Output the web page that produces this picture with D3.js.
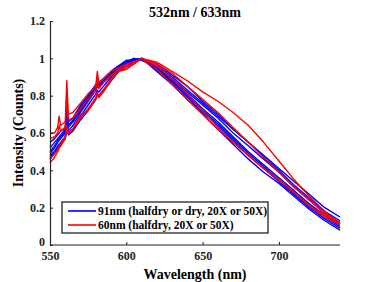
<!DOCTYPE html>
<head>
<meta charset="utf-8">
<style>
body { margin: 0; background: #fff; }
text { font-family: "Liberation Serif", "Times New Roman", serif; font-weight: bold; }
.axis path, .axis line { stroke: #222; }
.axis text { font-size: 12px; fill: #222; }
</style>
</head>
<body>
<script src="https://cdn.jsdelivr.net/npm/d3@7"></script>
<script>

var width = 376, height = 282;

// wavelength grid (nm), shared by every curve
var wavelengths = [550,553,555,556,557,560,561,562,565,570,575,580,581,582,585,590,595,600,605,610,
                   620,630,640,650,660,670,680,690,700,710,720,730,740];

// 91nm curves (blue)
var blue1 = [0.55,0.57,0.59,0.60,0.61,0.63,0.75,0.66,0.68,0.75,0.80,0.86,0.88,0.87,0.89,0.93,0.96,0.99,0.99,1.00,
             0.97,0.91,0.85,0.77,0.70,0.62,0.55,0.48,0.41,0.34,0.27,0.20,0.15];
var blue2 = [0.52,0.55,0.57,0.58,0.59,0.62,0.72,0.64,0.67,0.74,0.79,0.85,0.87,0.86,0.89,0.93,0.96,0.98,1.00,0.99,
             0.95,0.88,0.81,0.73,0.66,0.58,0.50,0.43,0.36,0.29,0.22,0.16,0.11];
var blue3 = [0.49,0.52,0.55,0.56,0.57,0.60,0.70,0.63,0.66,0.73,0.78,0.84,0.86,0.85,0.88,0.92,0.95,0.98,0.99,1.00,
             0.94,0.87,0.79,0.71,0.64,0.56,0.48,0.41,0.34,0.27,0.20,0.14,0.09];
var blue4 = [0.47,0.50,0.53,0.54,0.55,0.58,0.68,0.61,0.64,0.71,0.77,0.83,0.85,0.84,0.87,0.91,0.95,0.97,0.99,1.00,
             0.95,0.89,0.82,0.75,0.68,0.60,0.53,0.46,0.39,0.31,0.24,0.17,0.12];
var blue5 = [0.46,0.49,0.52,0.53,0.54,0.57,0.66,0.60,0.62,0.69,0.75,0.81,0.83,0.82,0.85,0.90,0.94,0.97,0.99,1.00,
             0.93,0.86,0.78,0.70,0.62,0.54,0.46,0.39,0.33,0.26,0.19,0.13,0.08];
var blue6 = [0.50,0.53,0.56,0.57,0.58,0.61,0.73,0.64,0.66,0.72,0.78,0.84,0.86,0.85,0.88,0.92,0.95,0.98,1.00,0.99,
             0.96,0.90,0.83,0.76,0.69,0.62,0.55,0.47,0.40,0.32,0.25,0.18,0.13];
var blue7 = [0.48,0.50,0.52,0.53,0.54,0.57,0.64,0.59,0.61,0.67,0.72,0.78,0.80,0.80,0.83,0.88,0.93,0.96,0.98,1.00,
             0.94,0.88,0.80,0.72,0.65,0.57,0.49,0.42,0.35,0.28,0.21,0.15,0.10];

// 60nm curves (red)
var red1 = [0.60,0.60,0.63,0.69,0.64,0.66,0.88,0.70,0.71,0.76,0.81,0.85,0.93,0.87,0.89,0.93,0.95,0.97,0.98,1.00,
            0.98,0.93,0.88,0.82,0.77,0.71,0.64,0.55,0.45,0.35,0.26,0.18,0.11];
var red2 = [0.44,0.47,0.50,0.52,0.53,0.57,0.62,0.60,0.62,0.70,0.72,0.78,0.82,0.79,0.82,0.88,0.93,0.94,0.97,1.00,
            0.96,0.89,0.81,0.72,0.63,0.55,0.48,0.41,0.35,0.28,0.21,0.16,0.11];
var red3 = [0.57,0.58,0.60,0.64,0.61,0.63,0.80,0.67,0.68,0.73,0.78,0.83,0.90,0.84,0.87,0.91,0.94,0.96,0.97,1.00,
            0.97,0.92,0.85,0.78,0.71,0.63,0.55,0.47,0.39,0.31,0.24,0.17,0.12];
var red4 = [0.46,0.49,0.51,0.53,0.54,0.58,0.64,0.60,0.62,0.68,0.73,0.79,0.81,0.80,0.83,0.89,0.93,0.95,0.97,1.00,
            0.94,0.86,0.78,0.70,0.62,0.55,0.48,0.41,0.35,0.28,0.21,0.15,0.11];

var blueSeries = [blue1, blue2, blue3, blue4, blue5, blue6, blue7];
var redSeries = [red1, red2, red3, red4];

var xTicks = [550, 600, 650, 700];
var yTicks = [0, 0.2, 0.4, 0.6, 0.8, 1, 1.2];
var legendLabels = ["91nm (halfdry or dry, 20X or 50X)", "60nm (halfdry, 20X or 50X)"];
var colors = ["#0000ff", "#ff0000"];

var svg = d3.select("body").append("svg")
    .attr("width", width)
    .attr("height", height);

var x = d3.scaleLinear().domain([550, 740]).range([50, 340]);
var y = d3.scaleLinear().domain([0, 1.2]).range([245, 21]);

var line = d3.line()
    .x(function(d, i) { return x(wavelengths[i]); })
    .y(function(d) { return y(d); });

var all = [];
blueSeries.forEach(function(s) { all.push({v: s, c: colors[0]}); });
redSeries.forEach(function(s) { all.push({v: s, c: colors[1]}); });

svg.selectAll("path.curve")
  .data(all)
  .enter()
  .append("path")
  .attr("class", "curve")
  .attr("d", function(d) { return line(d.v); })
  .attr("fill", "none")
  .attr("stroke", function(d) { return d.c; })
  .attr("stroke-width", 1.4)
  .attr("stroke-linejoin", "round");

// axes (ticks point inward)
svg.append("g")
  .attr("class", "axis")
  .attr("transform", "translate(0,245)")
  .call(d3.axisBottom(x).tickValues(xTicks).tickSizeInner(-3).tickSizeOuter(0).tickPadding(6))
  .call(function(g) { g.select(".domain").attr("d", "M50,0H340"); });

var yAxis = svg.append("g")
  .attr("class", "axis")
  .attr("transform", "translate(50,0)")
  .call(d3.axisLeft(y).tickValues(yTicks).tickSizeInner(-3).tickSizeOuter(0).tickPadding(5)
        .tickFormat(function(d) { return d; }));

// lift the "0" label so it clears the "550" below it
yAxis.selectAll(".tick text").filter(function(d) { return d === 0; }).attr("y", -3);

svg.selectAll(".axis .domain").attr("stroke-width", 1.2);

// title and labels
svg.append("text")
  .attr("x", 195).attr("y", 17)
  .attr("text-anchor", "middle")
  .style("font-size", "14px")
  .text("532nm / 633nm");

svg.append("text")
  .attr("x", 195).attr("y", 279)
  .attr("text-anchor", "middle")
  .style("font-size", "14px")
  .text("Wavelength (nm)");

svg.append("text")
  .attr("transform", "translate(23,133) rotate(-90)")
  .attr("text-anchor", "middle")
  .style("font-size", "14px")
  .text("Intensity (Counts)");

// legend
var legend = svg.append("g");
legend.append("rect")
  .attr("x", 62).attr("y", 202)
  .attr("width", 206).attr("height", 31)
  .attr("fill", "#fff")
  .attr("stroke", "#222")
  .attr("stroke-width", 1.3);

var items = legend.selectAll("g.item")
  .data(legendLabels)
  .enter()
  .append("g")
  .attr("transform", function(d, i) { return "translate(0," + (211 + i * 14) + ")"; });

items.append("line")
  .attr("x1", 68).attr("x2", 96)
  .attr("y1", 0).attr("y2", 0)
  .attr("stroke", function(d, i) { return colors[i]; })
  .attr("stroke-width", 1.6);

items.append("text")
  .attr("x", 98).attr("y", 4)
  .style("font-size", "11.5px")
  .text(function(d) { return d; });

</script>
</body>
